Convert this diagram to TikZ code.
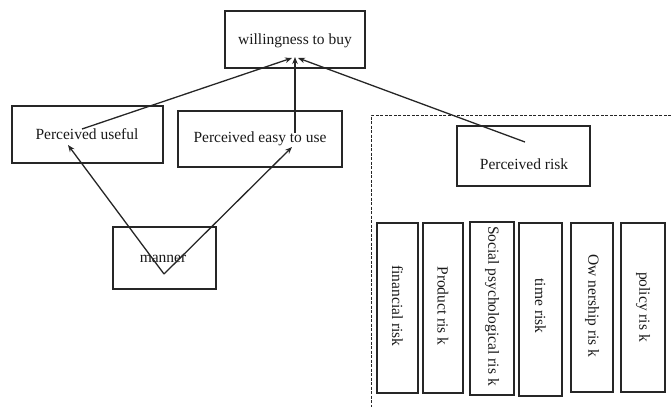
\documentclass[tikz,border=0pt]{standalone}
\usepackage{fontspec}
\setmainfont{Liberation Serif}
\usetikzlibrary{arrows.meta}
\begin{document}
\begin{tikzpicture}[x=1pt,y=-1pt,
  box/.style={draw=black!85,line width=1.4pt,inner sep=0pt},
  lbl/.style={font=\fontsize{15.5}{18}\selectfont,text=black!90},
  vlbl/.style={lbl,rotate=-90},
  conn/.style={draw=black!85,line width=1.3pt,-{Stealth[length=7pt,width=5.5pt]}},
  dline/.style={draw=black!85,line width=1pt,dash pattern=on 3pt off 1.5pt}]
\useasboundingbox (0,0) rectangle (671,407);
% boxes
\node[box,minimum width=140pt,minimum height=57pt] (wb) at (295,39.5) {};
\node[lbl] (wbt) at (295,41) {willingness to buy};
\node[box,minimum width=151pt,minimum height=57pt] (pu) at (87.5,134.5) {};
\node[lbl] (put) at (87,134) {Perceived useful};
\node[box,minimum width=164pt,minimum height=56pt] (pe) at (260,139) {};
\node[lbl] (pet) at (260,139) {Perceived easy to use};
\node[box,minimum width=133pt,minimum height=60pt] (pr) at (523.5,156) {};
\node[lbl] (prt) at (524,164) {Perceived risk};
\node[box,minimum width=103pt,minimum height=62pt] (mb) at (164.5,258) {};
\node[lbl] (mbt) at (163,259) {manner};
% risk boxes
\node[box,minimum width=41pt,minimum height=170pt] (r1) at (397.5,308) {};
\node[vlbl] (r1t) at (397.5,306) {financial risk};
\node[box,minimum width=40pt,minimum height=170pt] (r2) at (443,308) {};
\node[vlbl] (r2t) at (443,306) {Product ris k};
\node[box,minimum width=44pt,minimum height=173pt] (r3) at (492,308.5) {};
\node[vlbl] (r3t) at (492,306) {Social psychological ris k};
\node[box,minimum width=43pt,minimum height=173pt] (r4) at (540.5,309.5) {};
\node[vlbl] (r4t) at (540.5,306) {time risk};
\node[box,minimum width=42pt,minimum height=169pt] (r5) at (592,307.5) {};
\node[vlbl] (r5t) at (592,306) {Ow nership ris k};
\node[box,minimum width=44pt,minimum height=169pt] (r6) at (643,307.5) {};
\node[vlbl] (r6t) at (643,307) {policy ris k};
% connector points
\coordinate (puS) at (82,129);
\coordinate (peS) at (295,133);
\coordinate (prS) at (525,142);
\coordinate (wL) at (292,58);
\coordinate (wM) at (295,57);
\coordinate (wR) at (298,58);
\coordinate (mA) at (164,274);
\coordinate (puE) at (68,145);
\coordinate (peE) at (292,147);
% connectors
\draw[conn] (puS) -- (wL);
\draw[conn] (peS) -- (wM);
\draw[conn] (prS) -- (wR);
\draw[conn] (mA) -- (puE);
\draw[conn] (mA) -- (peE);
% dashed frame
\coordinate (dC) at (371,115);
\coordinate (dR) at (671,115);
\coordinate (dB) at (371,407);
\draw[dline] (dR) -- (dC) -- (dB);
\end{tikzpicture}
\end{document}
